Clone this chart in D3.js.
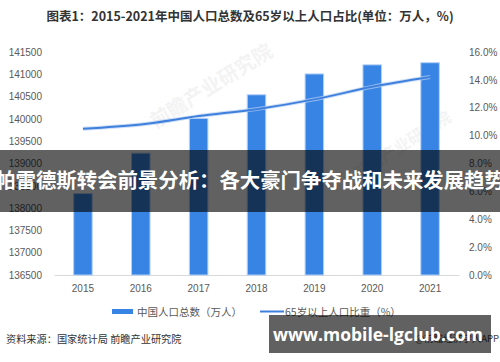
<!DOCTYPE html>
<html>
<head>
<meta charset="utf-8">
<script src="https://cdn.jsdelivr.net/npm/d3@7"></script>
<style>
  body { margin: 0; background: #fff; }
  svg { display: block; font-family: "Noto Sans CJK SC", "Noto Sans", sans-serif; }
</style>
</head>
<body>
<div class="vis-chart"></div>
<script>
const years = ['2015', '2016', '2017', '2018', '2019', '2020', '2021'];
const population = [138326, 139232, 140011, 140541, 141008, 141212, 141260];
const elderShare = [0.105, 0.108, 0.114, 0.119, 0.126, 0.135, 0.142];
const leftTicks = [136500, 137000, 137500, 138000, 138500, 139000, 139500, 140000, 140500, 141000, 141500];
const rightTicks = [0, 0.02, 0.04, 0.06, 0.08, 0.10, 0.12, 0.14, 0.16];

const width = 500;
const height = 362;
const svg = d3.select('.vis-chart').append('svg').attr('width', width).attr('height', height);

const plot = { left: 54, right: 459, top: 52, bottom: 275 };

const xScale = d3.scaleBand()
    .domain(years)
    .range([plot.left, plot.right])
    .paddingInner(0.68)
    .paddingOuter(0.34);

const yLeft = d3.scaleLinear().domain([136500, 141500]).range([plot.bottom, plot.top]);
const yRight = d3.scaleLinear().domain([0, 0.16]).range([plot.bottom, plot.top]);

const barColor = '#3784e5';
const lineColor = '#3f80dc';
const textColor = '#595959';

// faint watermarks
[[215, 92, 20], [405, 150, 16]].forEach(([x, y, s]) => {
    svg.append('text')
        .attr('transform', `translate(${x},${y}) rotate(-32)`)
        .attr('text-anchor', 'middle')
        .attr('font-size', s)
        .attr('font-weight', 'bold')
        .attr('fill', '#000')
        .attr('opacity', 0.045)
        .text('前瞻产业研究院');
});

// title
svg.append('text')
    .attr('x', 250)
    .attr('y', 21)
    .attr('text-anchor', 'middle')
    .attr('font-size', 12.5)
    .attr('font-weight', 'bold')
    .attr('fill', '#333')
    .text('图表1：2015-2021年中国人口总数及65岁以上人口占比(单位：万人，%)');

// axes
const leftAxis = d3.axisLeft(yLeft).tickValues(leftTicks).tickSize(0).tickPadding(12).tickFormat(d3.format('d'));
const leftG = svg.append('g').attr('transform', `translate(${plot.left},0)`).call(leftAxis);
leftG.select('.domain').remove();
leftG.selectAll('text').attr('font-size', 10).attr('fill', textColor)
    .attr('font-family', '"Liberation Sans", sans-serif');

const rightAxis = d3.axisRight(yRight).tickValues(rightTicks).tickSize(0).tickPadding(10).tickFormat(d3.format('.1%'));
const rightG = svg.append('g').attr('transform', `translate(${plot.right},0)`).call(rightAxis);
rightG.select('.domain').remove();
rightG.selectAll('text').attr('font-size', 10).attr('fill', textColor)
    .attr('font-family', '"Liberation Sans", sans-serif');

const xAxis = d3.axisBottom(xScale).tickSize(0).tickPadding(10);
const xG = svg.append('g').attr('transform', `translate(0,${plot.bottom})`).call(xAxis);
xG.select('.domain').attr('stroke', '#d9d9d9');
xG.selectAll('text').attr('font-size', 10).attr('fill', textColor)
    .attr('font-family', '"Liberation Sans", sans-serif');

// bars
svg.append('g').selectAll('rect').data(years)
    .enter().append('rect')
    .attr('x', d => xScale(d))
    .attr('width', xScale.bandwidth())
    .attr('y', (d, i) => yLeft(population[i]))
    .attr('height', (d, i) => plot.bottom - yLeft(population[i]))
    .attr('fill', barColor)
    .attr('stroke', '#b5d0f5')
    .attr('stroke-width', 1);

// line
const line = d3.line()
    .x((d, i) => xScale(years[i]) + xScale.bandwidth() / 2)
    .y(d => yRight(d))
    .curve(d3.curveMonotoneX);

svg.append('path').datum(elderShare)
    .attr('d', line).attr('fill', 'none')
    .attr('stroke', '#b9d1f3').attr('stroke-width', 4).attr('opacity', 0.7);
svg.append('path').datum(elderShare)
    .attr('d', line).attr('fill', 'none')
    .attr('stroke', lineColor).attr('stroke-width', 2);

// legend
const legend = svg.append('g').attr('font-size', 10.5).attr('fill', textColor);
legend.append('rect').attr('x', 112).attr('y', 309).attr('width', 21).attr('height', 5).attr('fill', barColor);
legend.append('text').attr('x', 137).attr('y', 316).text('中国人口总数（万人）');
legend.append('line').attr('x1', 260).attr('x2', 284).attr('y1', 311.5).attr('y2', 311.5)
    .attr('stroke', lineColor).attr('stroke-width', 2);
legend.append('text').attr('x', 285).attr('y', 316).text('65岁以上人口比重（%）');

// source
svg.append('text')
    .attr('x', 6).attr('y', 343)
    .attr('font-size', 10.2).attr('fill', '#333')
    .text('资料来源：国家统计局 前瞻产业研究院');
svg.append('text')
    .attr('x', 499).attr('y', 342)
    .attr('text-anchor', 'end')
    .attr('font-size', 9.5).attr('fill', '#444')
    .text('@前瞻经济学人APP');

// overlay banners
svg.append('rect').attr('x', 0).attr('y', 150).attr('width', 500).attr('height', 62)
    .attr('fill', 'rgba(0,0,0,0.62)');
svg.append('text')
    .attr('x', 250).attr('y', 188)
    .attr('text-anchor', 'middle')
    .attr('font-size', 20.4)
    .attr('font-weight', 'bold')
    .attr('fill', '#fff')
    .text('帕雷德斯转会前景分析：各大豪门争夺战和未来发展趋势');

svg.append('rect').attr('x', 269).attr('y', 315).attr('width', 222).attr('height', 38)
    .attr('fill', 'rgba(0,0,0,0.62)');
svg.append('text')
    .attr('x', 378).attr('y', 340.5)
    .attr('text-anchor', 'middle')
    .attr('font-size', 17.5)
    .attr('font-weight', 'bold')
    .attr('fill', '#fff')
    .attr('font-family', '"Open Sans", "DejaVu Sans", sans-serif')
    .text('www.mobile-lgclub.com');
</script>
</body>
</html>
